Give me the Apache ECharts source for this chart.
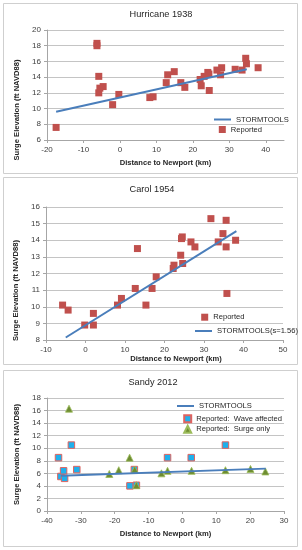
<!DOCTYPE html>
<html><head><meta charset="utf-8">
<script src="https://cdn.jsdelivr.net/npm/echarts@6/dist/echarts.min.js"></script>
<style>html,body{margin:0;padding:0;background:#fff}#c{width:302px;height:550px}</style>
</head><body><div id="c"></div>
<script>
// ---- Hurricane 1938 ----
const h38X = [-17.5, -6.3, -6.3, -5.8, -5.5, -4.6, -5.8, -2.0, -0.3, 8.2, 9.1, 12.7, 13.1, 14.9, 16.7, 17.8, 22.0, 22.3, 23.1, 24.1, 24.4, 24.5, 26.6, 27.9, 27.6, 31.6, 33.5, 34.5, 34.7, 37.9];
const h38Y = [7.6, 18.3, 18.0, 14.1, 12.6, 12.8, 12.0, 10.5, 11.8, 11.4, 11.5, 13.3, 14.3, 14.7, 13.3, 12.7, 13.7, 12.9, 14.1, 14.6, 14.4, 12.3, 14.9, 15.2, 14.3, 15.0, 14.9, 16.4, 15.7, 15.2];
const h38TrendX = [-17.5, 34.8];
const h38TrendY = [9.6, 15.0];
const h38XTicks = [-20, -10, 0, 10, 20, 30, 40];
// ---- Carol 1954 ----
const c54X = [-5.8, -4.4, -0.2, 2.0, 2.0, 8.1, 9.1, 12.6, 13.15, 15.3, 16.85, 17.9, 22.2, 22.4, 24.1, 24.3, 24.5, 24.6, 26.7, 27.7, 31.75, 33.6, 34.8, 35.6, 35.6, 35.8, 38.0];
const c54Y = [10.1, 9.8, 8.9, 9.6, 8.9, 10.1, 10.5, 11.1, 13.5, 10.1, 11.1, 11.8, 12.3, 12.5, 13.1, 14.1, 14.2, 12.6, 13.9, 13.6, 15.3, 13.9, 14.4, 15.2, 13.6, 10.8, 14.0];
const c54TrendX = [-5.0, 38.2];
const c54TrendY = [8.15, 14.55];
// ---- Sandy 2012 ----
const sWaveX = [-36.6, -35.9, -35.1, -34.8, -32.8, -31.2, -15.5, -14.2, -13.6, -4.4, 2.6, 12.7];
const sWaveY = [8.5, 5.5, 6.4, 5.2, 10.5, 6.6, 4.0, 6.6, 4.1, 8.5, 8.5, 10.5];
const sSurgeX = [-33.5, -21.6, -18.8, -15.6, -14.1, -13.6, -6.2, -4.4, 2.7, 12.7, 20.1, 24.5];
const sSurgeY = [16.3, 5.9, 6.5, 8.5, 6.6, 4.1, 6.0, 6.4, 6.4, 6.5, 6.7, 6.3];
const sTrendX = [-35.9, 24.6];
const sTrendY = [5.6, 6.75];

const titles = ['Hurricane 1938', 'Carol 1954', 'Sandy 2012'];
const xName = 'Distance to Newport (km)';
const yName = 'Surge Elevation (ft NAVD88)';

const pairs = (xs, ys) => xs.map((x, i) => [x, ys[i]]);
const FONT = "'Liberation Sans', Arial, sans-serif";
const RED = '#C0504D', BLUE = '#4A7EBB';
const GRID = '#c4c4c4', AXIS = '#a6a6a6', LBL = '#404040';

function xAx(i, min, max, interval, nameGap, namePad, custom) {
  const o = {
    type: 'value', gridIndex: i, min, max, interval,
    name: xName, nameLocation: 'middle', nameGap,
    nameTextStyle: {fontFamily: FONT, fontSize: 7.6, fontWeight: 'bold', color: '#262626', padding: namePad},
    axisLine: {show: true, onZero: false, lineStyle: {color: AXIS}},
    axisTick: {show: true, length: 3, lineStyle: {color: AXIS}},
    axisLabel: {fontFamily: FONT, fontSize: 8, color: LBL, margin: 6},
    splitLine: {show: false}
  };
  if (custom) { o.axisTick.customValues = custom; o.axisLabel.customValues = custom; }
  return o;
}
function yAx(i, min, max, interval, nameGap, namePad) {
  return {
    type: 'value', gridIndex: i, min, max, interval,
    name: yName, nameLocation: 'middle', nameGap,
    nameTextStyle: {fontFamily: FONT, fontSize: 7.6, fontWeight: 'bold', color: '#262626', padding: namePad},
    axisLine: {show: true, onZero: false, lineStyle: {color: AXIS}},
    axisTick: {show: true, length: 3, lineStyle: {color: AXIS}},
    axisLabel: {fontFamily: FONT, fontSize: 8, color: LBL, margin: 6},
    splitLine: {show: true, lineStyle: {color: GRID, width: 1}}
  };
}
function leg(name, left, top, w, h, icon) {
  const o = {data: [name], left, top, padding: 0, itemWidth: w, itemHeight: h, selectedMode: false,
    textStyle: {fontFamily: FONT, fontSize: 7.6, color: '#262626'}};
  if (icon) o.icon = icon;
  return o;
}

const option = {
  backgroundColor: '#fff',
  animation: false,
  title: [
    {text: titles[0], left: 161, top: 10, textAlign: 'center', padding: 0, textStyle: {fontFamily: FONT, fontSize: 9.2, fontWeight: 'normal', color: '#262626'}},
    {text: titles[1], left: 152, top: 184.5, textAlign: 'center', padding: 0, textStyle: {fontFamily: FONT, fontSize: 9.2, fontWeight: 'normal', color: '#262626'}},
    {text: titles[2], left: 153, top: 377.5, textAlign: 'center', padding: 0, textStyle: {fontFamily: FONT, fontSize: 9.2, fontWeight: 'normal', color: '#262626'}}
  ],
  graphic: [
    {type: 'rect', shape: {x: 3.5, y: 3.5, width: 294, height: 170}, style: {fill: 'none', stroke: '#cfcfcf', lineWidth: 1}, z: -1},
    {type: 'rect', shape: {x: 3.5, y: 177.5, width: 294, height: 187}, style: {fill: 'none', stroke: '#cfcfcf', lineWidth: 1}, z: -1},
    {type: 'rect', shape: {x: 3.5, y: 370.5, width: 294, height: 176}, style: {fill: 'none', stroke: '#cfcfcf', lineWidth: 1}, z: -1}
  ],
  grid: [
    {left: 47, top: 30, width: 237, height: 110},
    {left: 46, top: 207, width: 237, height: 133},
    {left: 47, top: 398, width: 237, height: 113}
  ],
  xAxis: [
    xAx(0, -20, 45, 10, 19, [0, 0, 0, 0], h38XTicks),
    xAx(1, -10, 50, 10, 15, [0, 0, 0, 23]),
    xAx(2, -40, 30, 10, 19, [0, 0, 0, 0])
  ],
  yAxis: [
    yAx(0, 6, 20, 2, 20, [0, 50, 0, 0]),
    yAx(1, 8, 16, 1, 20, [0, 34, 0, 0]),
    yAx(2, 0, 18, 2, 20, [0, 0, 0, 0])
  ],
  legend: [
    leg('STORMTOOLS', 214, 115.5, 17, 2, 'rect'),
    leg('Reported', 218.8, 125.5, 7, 7),
    leg('Reported ', 201.2, 313.2, 7, 7),
    leg('STORMTOOLS(s=1.56)', 195, 327, 17, 2, 'rect'),
    leg('STORMTOOLS ', 177, 402, 17, 2, 'rect'),
    leg('Reported:  Wave affected', 183.2, 414.2, 7, 7),
    leg('Reported:  Surge only', 183.2, 424.8, 7, 7)
  ],
  series: [
    {name: 'Reported', type: 'scatter', xAxisIndex: 0, yAxisIndex: 0, symbol: 'rect', symbolSize: 7,
      itemStyle: {color: RED, opacity: 1}, data: pairs(h38X, h38Y)},
    {name: 'STORMTOOLS', type: 'line', xAxisIndex: 0, yAxisIndex: 0, symbol: 'none',
      lineStyle: {color: BLUE, width: 2}, itemStyle: {color: BLUE}, data: pairs(h38TrendX, h38TrendY)},
    {name: 'Reported ', type: 'scatter', xAxisIndex: 1, yAxisIndex: 1, symbol: 'rect', symbolSize: 7,
      itemStyle: {color: RED, opacity: 1}, data: pairs(c54X, c54Y)},
    {name: 'STORMTOOLS(s=1.56)', type: 'line', xAxisIndex: 1, yAxisIndex: 1, symbol: 'none',
      lineStyle: {color: BLUE, width: 2}, itemStyle: {color: BLUE}, data: pairs(c54TrendX, c54TrendY)},
    {name: 'STORMTOOLS ', type: 'line', xAxisIndex: 2, yAxisIndex: 2, symbol: 'none',
      lineStyle: {color: BLUE, width: 2}, itemStyle: {color: BLUE}, data: pairs(sTrendX, sTrendY)},
    {name: 'Reported:  Wave affected', type: 'scatter', xAxisIndex: 2, yAxisIndex: 2, symbol: 'rect', symbolSize: 6.5,
      itemStyle: {color: '#1FB0EC', borderColor: '#E0635F', borderWidth: 1, opacity: 1}, data: pairs(sWaveX, sWaveY)},
    {name: 'Reported:  Surge only', type: 'scatter', xAxisIndex: 2, yAxisIndex: 2, symbol: 'triangle', symbolSize: 7,
      itemStyle: {color: '#6E8C32', borderColor: '#9BBB59', borderWidth: 0.8, opacity: 1}, data: pairs(sSurgeX, sSurgeY)}
  ]
};
echarts.init(document.getElementById('c'), null, {renderer: 'canvas'}).setOption(option);
</script></body></html>
